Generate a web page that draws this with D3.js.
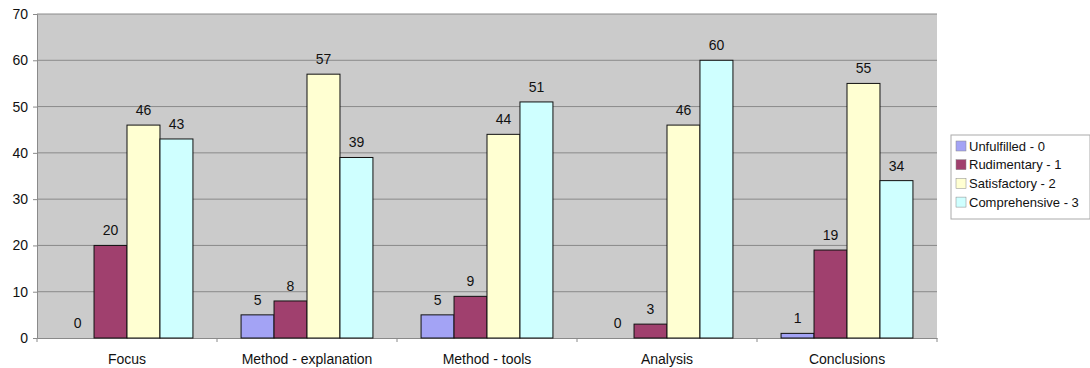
<!DOCTYPE html>
<html>
<head>
<meta charset="utf-8">
<script src="https://cdn.jsdelivr.net/npm/d3@7"></script>
<style>
  body { margin: 0; background: #fff; }
  svg text { font-family: "Liberation Sans", Arial, sans-serif; fill: #111; }
</style>
</head>
<body>
<svg id="chart" width="1090" height="368"></svg>
<script>
const categories = ["Focus", "Method - explanation", "Method - tools", "Analysis", "Conclusions"];
const seriesNames = ["Unfulfilled - 0", "Rudimentary - 1", "Satisfactory - 2", "Comprehensive - 3"];
const unfulfilled   = [0, 5, 5, 0, 1];
const rudimentary   = [20, 8, 9, 3, 19];
const satisfactory  = [46, 57, 44, 46, 55];
const comprehensive = [43, 39, 51, 60, 34];
const yTicks = [0, 10, 20, 30, 40, 50, 60, 70];
const colors = ["#a3a3f5", "#a0406e", "#ffffd2", "#cfffff"];

const series = [unfulfilled, rudimentary, satisfactory, comprehensive];

const svg = d3.select("#chart");
const plot = { left: 37, top: 14, right: 937, bottom: 338 };

const x = d3.scaleBand().domain(categories).range([plot.left, plot.right]).paddingInner(0).paddingOuter(0);
const inner = d3.scaleBand().domain(d3.range(series.length))
  .range([0, x.bandwidth()]).paddingOuter(0.73).paddingInner(0);
const y = d3.scaleLinear().domain([0, 70]).range([plot.bottom, plot.top]);

// plot background
svg.append("rect")
  .attr("x", plot.left).attr("y", plot.top)
  .attr("width", plot.right - plot.left).attr("height", plot.bottom - plot.top)
  .attr("fill", "#cbcbcb");

// horizontal gridlines
svg.append("g").selectAll("line").data(yTicks.filter(d => d > 0)).join("line")
  .attr("x1", plot.left).attr("x2", plot.right)
  .attr("y1", d => y(d)).attr("y2", d => y(d))
  .attr("stroke", "#8a8a8a").attr("stroke-width", 1);

// y axis
const yAxis = svg.append("g").attr("transform", `translate(${plot.left},0)`)
  .call(d3.axisLeft(y).tickValues(yTicks).tickSize(4).tickPadding(5));
yAxis.select(".domain").attr("stroke", "#8a8a8a");
yAxis.selectAll(".tick line").attr("stroke", "#8a8a8a");
yAxis.selectAll("text").attr("font-size", 14).attr("fill", "#111");

// x axis
const xAxis = svg.append("g").attr("transform", `translate(0,${plot.bottom})`)
  .call(d3.axisBottom(x).tickSize(0).tickPadding(16));
xAxis.select(".domain").attr("stroke", "#8a8a8a");
xAxis.selectAll("text").attr("font-size", 14).attr("fill", "#111");
// category separator ticks
svg.append("g").selectAll("line").data(d3.range(categories.length + 1)).join("line")
  .attr("x1", i => plot.left + i * x.bandwidth()).attr("x2", i => plot.left + i * x.bandwidth())
  .attr("y1", plot.bottom).attr("y2", plot.bottom + 4)
  .attr("stroke", "#8a8a8a");

// bars with value labels
const groups = svg.append("g").selectAll("g").data(categories).join("g")
  .attr("transform", c => `translate(${x(c)},0)`);

groups.each(function(c, ci) {
  const g = d3.select(this);
  series.forEach((vals, si) => {
    const v = vals[ci];
    if (v > 0) {
      g.append("rect")
        .attr("x", inner(si)).attr("y", y(v))
        .attr("width", inner.bandwidth()).attr("height", y(0) - y(v))
        .attr("fill", colors[si]).attr("stroke", "#111").attr("stroke-width", 1);
    }
    g.append("text")
      .attr("x", inner(si) + inner.bandwidth() / 2)
      .attr("y", y(v) - 10)
      .attr("text-anchor", "middle")
      .attr("font-size", 14)
      .text(v);
  });
});

// legend
const legend = svg.append("g").attr("transform", "translate(951,135)");
legend.append("rect").attr("width", 139).attr("height", 84)
  .attr("fill", "#fff").attr("stroke", "#aaa");
seriesNames.forEach((name, i) => {
  const row = legend.append("g").attr("transform", `translate(5,${11 + i * 18.7})`);
  row.append("rect").attr("x", 0).attr("y", -5).attr("width", 10).attr("height", 10)
    .attr("fill", colors[i]).attr("stroke", "#888").attr("stroke-width", 0.5);
  row.append("text").attr("x", 13).attr("y", 0).attr("dy", "0.35em")
    .attr("font-size", 13).text(name);
});
</script>
</body>
</html>
